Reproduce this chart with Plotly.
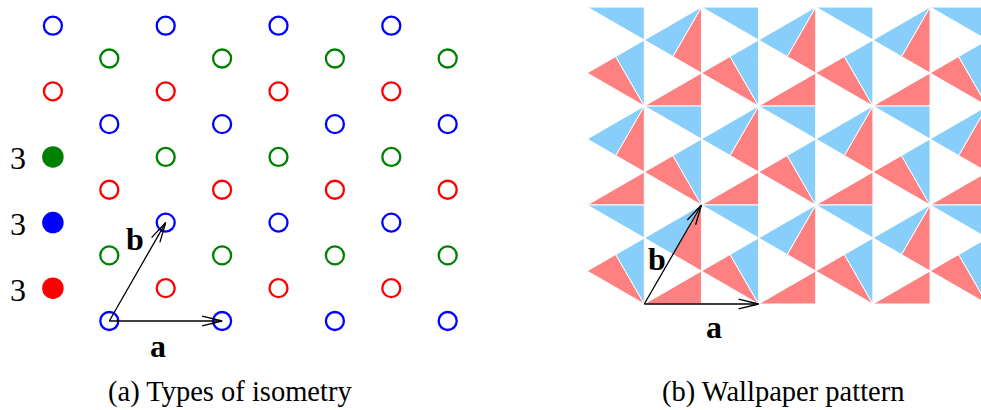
import numpy as np
import plotly.graph_objects as go

W, H = 981, 410

# hexagonal lattice basis
A_VEC = np.array([1.0, 0.0])
B_VEC = np.array([0.5, np.sqrt(3) / 2])

# the three inequivalent 3-fold rotation centres (fractional coords along a, b)
CENTRE_CLASSES = ["blue", "red", "green"]
CENTRE_FRAC = [(0.0, 0.0), (1 / 3, 1 / 3), (2 / 3, 2 / 3)]
CENTRE_COLOURS = ["#0000ff", "#ff0000", "#008000"]
# one representative of each class is drawn solid and labelled with its order
SOLID_INDEX = [(-1, 1), (-1, 0), (-2, 1)]
ROTATION_ORDER = ["3", "3", "3"]

# part of the lattice shown in panel (a): xmin, xmax, ymin, ymax
WIN_A = (-0.55, 3.05, -0.05, 2.65)

# panel (b): up-triangles carry the red motif, down-triangles the blue one
TILE_COLOURS = {"up": "#ff8080", "down": "#87cefa"}
ROWS_B = 3
WIN_B = (-0.5, 3.5)

VECTOR_LABELS = ["a", "b"]
CAPTIONS = ["(a) Types of isometry", "(b) Wallpaper pattern"]

FONT = "Liberation Serif"


def lattice_point(u, v):
    return u * A_VEC + v * B_VEC


def arrow_path(start, end, head_len, head_half):
    start, end = np.asarray(start, float), np.asarray(end, float)
    d = end - start
    d = d / np.hypot(*d)
    n = np.array([-d[1], d[0]])
    base = end - head_len * d
    b1, b2 = base + head_half * n, base - head_half * n
    xs = [start[0], end[0], None, b1[0], end[0], b2[0]]
    ys = [start[1], end[1], None, b1[1], end[1], b2[1]]
    return xs, ys


fig = go.Figure()

# ---------------- panel (a): rotation centres ----------------
x0, x1, y0, y1 = WIN_A
for cls, frac, col, solid, order in zip(CENTRE_CLASSES, CENTRE_FRAC,
                                        CENTRE_COLOURS, SOLID_INDEX,
                                        ROTATION_ORDER):
    ox, oy, sx, sy = [], [], [], []
    for i in range(-5, 7):
        for j in range(-2, 6):
            p = lattice_point(i + frac[0], j + frac[1])
            if not (x0 <= p[0] <= x1 and y0 <= p[1] <= y1):
                continue
            if (i, j) == solid:
                sx.append(p[0]); sy.append(p[1])
            else:
                ox.append(p[0]); oy.append(p[1])
    fig.add_trace(go.Scatter(
        x=ox, y=oy, mode="markers", xaxis="x", yaxis="y", hoverinfo="skip",
        marker=dict(symbol="circle-open", size=18, color=col,
                    line=dict(width=2.3, color=col))))
    fig.add_trace(go.Scatter(
        x=sx, y=sy, mode="markers", xaxis="x", yaxis="y", hoverinfo="skip",
        marker=dict(symbol="circle", size=21.5, color=col, line=dict(width=0))))
    for px_, py_ in zip(sx, sy):
        fig.add_annotation(x=px_ - 0.307, y=py_ - 0.012, xref="x", yref="y",
                           text=order, showarrow=False,
                           font=dict(family=FONT, size=32, color="black"))

# ---------------- panel (b): p3 wallpaper ----------------
tiles = {"up": ([], []), "down": ([], [])}


def mid(p, q):
    return (p + q) / 2


def add_tile(kind, tri):
    c = sum(tri) / 3
    if not (WIN_B[0] <= c[0] <= WIN_B[1]):
        return
    xs, ys = tiles[kind]
    for v in tri + [tri[0]]:
        xs.append(v[0]); ys.append(v[1])
    xs.append(None); ys.append(None)


for j in range(ROWS_B):
    for i in range(-4, 6):
        P = lattice_point(i, j)
        V = [P, P + A_VEC, P + B_VEC]
        cu = P + (A_VEC + B_VEC) / 3
        for k in range(3):
            add_tile("up", [V[k], mid(V[k], V[(k + 1) % 3]), cu])
        Wd = [P + A_VEC, P + A_VEC + B_VEC, P + B_VEC]
        cd = P + 2 * (A_VEC + B_VEC) / 3
        for k in range(3):
            add_tile("down", [Wd[k], mid(Wd[k], Wd[(k - 1) % 3]), cd])

for kind in ("up", "down"):
    xs, ys = tiles[kind]
    fig.add_trace(go.Scatter(
        x=xs, y=ys, mode="lines", fill="toself", xaxis="x2", yaxis="y2",
        fillcolor=TILE_COLOURS[kind], hoverinfo="skip",
        line=dict(color="white", width=1)))

# ---------------- lattice vectors ----------------
for ax, ay, scale in (("x", "y", 113.0), ("x2", "y2", 114.3)):
    for vec in (A_VEC, B_VEC):
        xs, ys = arrow_path((0, 0), vec, 20 / scale, 4.8 / scale)
        fig.add_trace(go.Scatter(
            x=xs, y=ys, mode="lines", xaxis=ax, yaxis=ay, hoverinfo="skip",
            line=dict(color="black", width=1.3)))

label_pos = {
    ("x", "y"): [(0.43, -0.219), (0.225, 0.72)],
    ("x2", "y2"): [(0.608, -0.203), (0.115, 0.392)],
}
for (ax, ay), pts in label_pos.items():
    for lab, (lx, ly) in zip(VECTOR_LABELS, pts):
        fig.add_annotation(x=lx, y=ly, xref=ax, yref=ay, showarrow=False,
                           text=f"<b>{lab}</b>",
                           font=dict(family=FONT, size=32, color="black"))

for cap, cx in zip(CAPTIONS, (230 / W, 783.5 / W)):
    fig.add_annotation(x=cx, y=0.0437, xref="paper", yref="paper",
                       showarrow=False, text=cap, xanchor="center",
                       yanchor="middle",
                       font=dict(family=FONT, size=28.5, color="black"))

split = 490 / W
hidden = dict(visible=False, showgrid=False, zeroline=False, fixedrange=True)
fig.update_layout(
    width=W, height=H, margin=dict(l=0, r=0, t=0, b=0),
    paper_bgcolor="white", plot_bgcolor="white", showlegend=False,
    xaxis=dict(domain=[0, split],
               range=[-109.3 / 112.8, (490 - 109.3) / 112.8], **hidden),
    yaxis=dict(domain=[0, 1],
               range=[(321 - 410) / 113.66, 321 / 113.66], **hidden),
    xaxis2=dict(domain=[split, 1],
                range=[(490 - 644.3) / 114.3, (981 - 644.3) / 114.3], **hidden),
    yaxis2=dict(domain=[0, 1], anchor="x2",
                range=[(304 - 410) / 114.3, 304 / 114.3], **hidden),
)

fig.write_html("out.html", config={"displayModeBar": False})
